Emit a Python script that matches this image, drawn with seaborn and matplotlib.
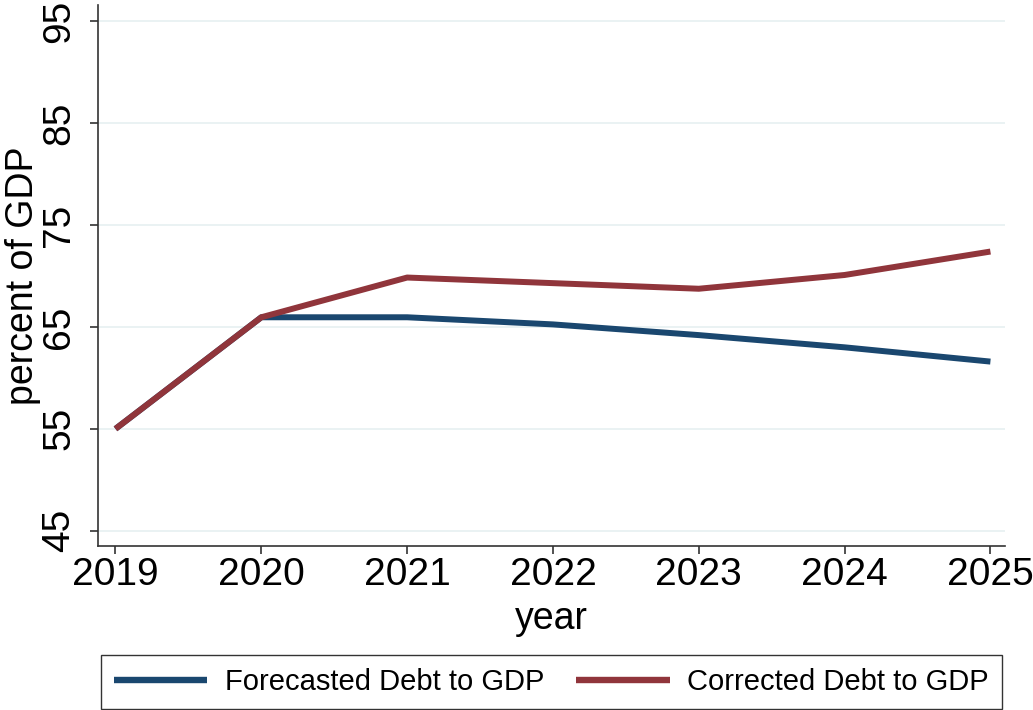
import matplotlib
matplotlib.use("Agg")
import matplotlib.pyplot as plt
import seaborn as sns
import pandas as pd

years = [2019, 2020, 2021, 2022, 2023, 2024, 2025]
forecasted = [55.0, 65.95, 65.95, 65.25, 64.2, 63.0, 61.6]
corrected = [55.0, 65.95, 69.85, 69.3, 68.75, 70.1, 72.4]
series_names = ["Forecasted Debt to GDP", "Corrected Debt to GDP"]
y_ticks = [45, 55, 65, 75, 85, 95]

df = pd.DataFrame({
    "year": years * 2,
    "value": forecasted + corrected,
    "series": [series_names[0]] * len(years) + [series_names[1]] * len(years),
})

sns.set_style("white")
plt.rcParams["font.family"] = ["Liberation Sans", "DejaVu Sans"]
plt.rcParams["text.color"] = "black"
plt.rcParams["axes.labelcolor"] = "black"

fig = plt.figure(figsize=(10.33, 7.10), dpi=100)
ax = fig.add_axes([98 / 1033, 1 - 546 / 710, (1005 - 98) / 1033, (546 - 5) / 710])

palette = {series_names[0]: "#1a476f", series_names[1]: "#90353b"}
sns.lineplot(data=df, x="year", y="value", hue="series", palette=palette,
             linewidth=4.3, ax=ax, legend=True, sort=False)
for line in ax.get_lines():
    line.set_solid_capstyle("butt")

ax.set_xlim(2018.88, 2025.10)
ax.set_ylim(43.5, 96.6)
ax.set_yticks(y_ticks)
ax.set_xticks(years)
ax.set_yticklabels([str(t) for t in y_ticks], rotation=90, va="center")
ax.set_xticklabels([str(y) for y in years])

for t in y_ticks:
    ax.axhline(t, color="#eaf2f3", linewidth=1.4, zorder=0)

for s in ["top", "right"]:
    ax.spines[s].set_visible(False)
for s in ["left", "bottom"]:
    ax.spines[s].set_color("#333333")
    ax.spines[s].set_linewidth(1.2)

ax.tick_params(axis="both", which="both", direction="out", length=6, width=1.2,
               color="#333333", labelsize=28, labelcolor="black")
ax.tick_params(axis="y", pad=9)
ax.tick_params(axis="x", pad=2)
ax.xaxis.set_ticks_position("bottom")
ax.yaxis.set_ticks_position("left")

ax.set_xlabel("year", fontsize=27, labelpad=6, color="black")
ax.set_ylabel("percent of GDP", fontsize=27, labelpad=0, color="black")

handles, labels = ax.get_legend_handles_labels()
ax.get_legend().remove()
leg = fig.legend(handles, labels, loc="lower center", ncol=2,
                 bbox_to_anchor=(551.5 / 1033, 1 / 710), fontsize=21,
                 frameon=True, fancybox=False, edgecolor="black",
                 handlelength=3.2, handletextpad=0.6, columnspacing=1.1,
                 borderpad=0.45, borderaxespad=0)
leg.get_frame().set_linewidth(1.0)
for line in leg.get_lines():
    line.set_linewidth(4.6)
    line.set_solid_capstyle("butt")
for txt in leg.get_texts():
    txt.set_color("black")

fig.savefig("out.png", dpi=100, facecolor="white")
